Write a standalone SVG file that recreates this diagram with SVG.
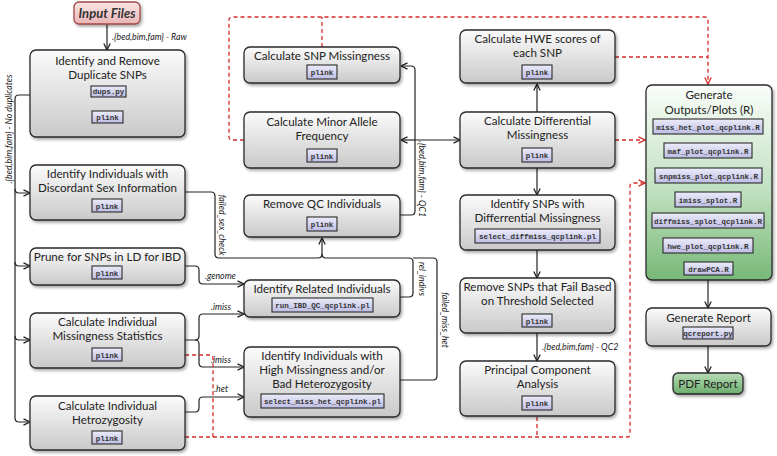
<svg xmlns="http://www.w3.org/2000/svg" width="777" height="456" viewBox="0 0 777 456">
<defs>
<linearGradient id="gBox" x1="0" y1="0" x2="0" y2="1"><stop offset="0" stop-color="#fbfbfb"/><stop offset="1" stop-color="#c9c9c9"/></linearGradient>
<linearGradient id="gCode" x1="0" y1="0" x2="0" y2="1"><stop offset="0" stop-color="#ececfa"/><stop offset="1" stop-color="#bdbde3"/></linearGradient>
<linearGradient id="gIn" x1="0" y1="0" x2="0" y2="1"><stop offset="0" stop-color="#fbe6e6"/><stop offset="1" stop-color="#e9b5b5"/></linearGradient>
<linearGradient id="gGen" x1="0" y1="0" x2="0" y2="1"><stop offset="0" stop-color="#fafdfa"/><stop offset="0.55" stop-color="#bfe0bf"/><stop offset="1" stop-color="#78b878"/></linearGradient>
<linearGradient id="gPdf" x1="0" y1="0" x2="0" y2="1"><stop offset="0" stop-color="#b8dcb8"/><stop offset="1" stop-color="#6cae6c"/></linearGradient>
<filter id="sh" x="-10%" y="-10%" width="125%" height="130%"><feDropShadow dx="1.5" dy="2" stdDeviation="1.5" flood-color="#000" flood-opacity="0.35"/></filter>
<marker id="ar" viewBox="0 0 8 8" refX="7.5" refY="4" markerWidth="8" markerHeight="8" markerUnits="userSpaceOnUse" orient="auto"><path d="M1,0.8 L7.5,4 L1,7.2" fill="none" stroke="#222" stroke-width="1.3"/></marker>
<marker id="arR" viewBox="0 0 8 8" refX="7.5" refY="4" markerWidth="8" markerHeight="8" markerUnits="userSpaceOnUse" orient="auto"><path d="M1,0.8 L7.5,4 L1,7.2" fill="none" stroke="#d32a2a" stroke-width="1.3"/></marker>
<style>
.box{fill:url(#gBox);stroke:#2a2a2a;stroke-width:1.3;filter:url(#sh)}
.code{fill:url(#gCode);stroke:#2a2a2a;stroke-width:1.1}
.t{font-family:Lato,"Liberation Sans",sans-serif;font-size:11.6px;fill:#222;text-anchor:middle}
.c{font-family:"Liberation Mono","DejaVu Sans Mono",monospace;font-size:7.5px;font-weight:bold;fill:#333;text-anchor:middle}
.l{font-family:Lato,"Liberation Sans",sans-serif;font-size:8.8px;font-style:italic;fill:#222}
.k{fill:none;stroke:#222;stroke-width:1.2}
.r{fill:none;stroke:#d32a2a;stroke-width:1.3;stroke-dasharray:4 3}
</style>
</defs>

<g id="connectors">
<path class="k" d="M107,24 V50" marker-end="url(#ar)"/>
<path class="k" d="M108,97 V111" marker-end="url(#ar)"/>
<path class="k" d="M30,95 H19 Q15,95 15,99 V418 Q15,422 19,422 H30" marker-end="url(#ar)"/>
<path class="k" d="M15,189 Q15,193 19,193 H30" marker-end="url(#ar)"/>
<path class="k" d="M15,262 Q15,266 19,266 H30" marker-end="url(#ar)"/>
<path class="k" d="M15,336 Q15,340 19,340 H30" marker-end="url(#ar)"/>
<path class="k" d="M185,192 H211 Q215,192 215,196 V254 Q215,258 219,258 H318 Q322,258 322,254 V238" marker-end="url(#ar)"/>
<path class="k" d="M400,297 H409 Q413,297 413,293 V262 Q413,258 409,258 H326 Q322,258 322,254"/>
<path class="k" d="M400,380 H433 Q437,380 437,376 V262 Q437,258 433,258 H413"/>
<path class="k" d="M185,266 H195 Q199,266 199,270 V280 Q199,284 203,284 H244" marker-end="url(#ar)"/>
<path class="k" d="M185,340 H195 Q199,340 199,336 V318 Q199,314 203,314 H244" marker-end="url(#ar)"/>
<path class="k" d="M195,340 Q199,340 199,344 V363 Q199,367 203,367 H244" marker-end="url(#ar)"/>
<path class="k" d="M185,412 H195 Q199,412 199,408 V401 Q199,397 203,397 H244" marker-end="url(#ar)"/>
<path class="k" d="M400,215 H411 Q415,215 415,211 V70 Q415,66 411,66 H401" marker-end="url(#ar)"/>
<path class="k" d="M415,140 H401" marker-end="url(#ar)"/>
<path class="k" d="M415,140 H460" marker-end="url(#ar)"/>
<path class="k" d="M537,112 V84" marker-end="url(#ar)"/>
<path class="k" d="M537,168 V195" marker-end="url(#ar)"/>
<path class="k" d="M537,250 V278" marker-end="url(#ar)"/>
<path class="k" d="M537,333 V361" marker-end="url(#ar)"/>
<path class="k" d="M708,280 V308" marker-end="url(#ar)"/>
<path class="k" d="M708,346 V373" marker-end="url(#ar)"/>
<path class="r" d="M244,140 H232 Q229,140 229,137 V20 Q229,17 232,17 H705 Q708,17 708,20 V84" marker-end="url(#arR)"/>
<path class="r" d="M322,47 V17"/>
<path class="r" d="M615,57 H708"/>
<path class="r" d="M615,140 H645" marker-end="url(#arR)"/>
<path class="r" d="M185,355 H210 Q213,355 213,358 V437"/>
<path class="r" d="M185,437 H627 Q630,437 630,434 V186 Q630,183 633,183 H645" marker-end="url(#arR)"/>
<path class="r" d="M537,417 V437"/>
<text class="l" x="112" y="40">.{bed,bim,fam} - Raw</text>
<text class="l" transform="translate(12,129) rotate(-90)" text-anchor="middle">.{bed,bim,fam} - No duplicates</text>
<text class="l" transform="translate(219,225) rotate(90)" text-anchor="middle">failed_sex_check</text>
<text class="l" x="205" y="279">.genome</text>
<text class="l" x="211" y="310">.imiss</text>
<text class="l" x="211" y="363">.imiss</text>
<text class="l" x="214" y="392">.het</text>
<text class="l" transform="translate(419,279) rotate(90)" text-anchor="middle">rel_indivs</text>
<text class="l" transform="translate(442,320) rotate(90)" text-anchor="middle">failed_miss_het</text>
<text class="l" transform="translate(419,179) rotate(90)" text-anchor="middle">.{bed,bim,fam} - QC1</text>
<text class="l" x="542" y="350">.{bed,bim,fam} - QC2</text>
</g>

<g id="input">
<rect x="74" y="2" width="66" height="22" rx="5" fill="url(#gIn)" stroke="#a04848" stroke-width="1.3" filter="url(#sh)"/>
<text x="107" y="17.5" font-family="Lato,'Liberation Sans',sans-serif" font-size="13" font-style="italic" font-weight="bold" fill="#333" text-anchor="middle">Input Files</text>
</g>

<g id="dups">
<rect class="box" x="30" y="50" width="155" height="87" rx="6"/>
<text class="t" x="107.5" y="65">Identify and Remove</text>
<text class="t" x="107.5" y="79">Duplicate SNPs</text>
<rect class="code" x="91" y="86" width="35" height="11"/><text class="c" x="108.5" y="94">dups.py</text>
<rect class="code" x="92" y="111" width="31" height="12"/><text class="c" x="107.5" y="120">plink</text>
</g>

<g id="sex">
<rect class="box" x="30" y="165" width="155" height="55" rx="6"/>
<text class="t" x="107.5" y="178">Identify Individuals with</text>
<text class="t" x="107.5" y="192">Discordant Sex Information</text>
<rect class="code" x="92" y="199" width="30" height="13"/><text class="c" x="107" y="208.5">plink</text>
</g>

<g id="prune">
<rect class="box" x="30" y="248" width="155" height="37" rx="6"/>
<text class="t" x="107.5" y="261">Prune for SNPs in LD for IBD</text>
<rect class="code" x="92" y="266" width="30" height="13"/><text class="c" x="107" y="275.5">plink</text>
</g>

<g id="imiss">
<rect class="box" x="30" y="313" width="155" height="55" rx="6"/>
<text class="t" x="107.5" y="326">Calculate Individual</text>
<text class="t" x="107.5" y="340">Missingness Statistics</text>
<rect class="code" x="92" y="348" width="30" height="13"/><text class="c" x="107" y="357.5">plink</text>
</g>

<g id="het">
<rect class="box" x="30" y="396" width="155" height="54" rx="6"/>
<text class="t" x="107.5" y="410">Calculate Individual</text>
<text class="t" x="107.5" y="424">Hetrozygosity</text>
<rect class="code" x="92" y="431" width="30" height="13"/><text class="c" x="107" y="440.5">plink</text>
</g>

<g id="snpmiss">
<rect class="box" x="244" y="47" width="156" height="36" rx="6"/>
<text class="t" x="322" y="60">Calculate SNP Missingness</text>
<rect class="code" x="307" y="65" width="30" height="14"/><text class="c" x="322" y="75">plink</text>
</g>

<g id="maf">
<rect class="box" x="244" y="112" width="156" height="56" rx="6"/>
<text class="t" x="322" y="126">Calculate Minor Allele</text>
<text class="t" x="322" y="140">Frequency</text>
<rect class="code" x="307" y="149" width="30" height="13"/><text class="c" x="322" y="158.5">plink</text>
</g>

<g id="removeqc">
<rect class="box" x="244" y="195" width="156" height="42" rx="6"/>
<text class="t" x="322" y="208">Remove QC Individuals</text>
<rect class="code" x="307" y="217" width="30" height="14"/><text class="c" x="322" y="227">plink</text>
</g>

<g id="related">
<rect class="box" x="244" y="280" width="156" height="37" rx="6"/>
<text class="t" x="322" y="293">Identify Related Individuals</text>
<rect class="code" x="272" y="298" width="101" height="14"/><text class="c" x="322.5" y="308">run_IBD_QC_qcplink.pl</text>
</g>

<g id="misshet">
<rect class="box" x="244" y="347" width="156" height="70" rx="6"/>
<text class="t" x="322" y="360">Identify Individuals with</text>
<text class="t" x="322" y="374">High Missingness and/or</text>
<text class="t" x="322" y="388">Bad Heterozygosity</text>
<rect class="code" x="261" y="394" width="123" height="14"/><text class="c" x="322.5" y="404">select_miss_het_qcplink.pl</text>
</g>

<g id="hwe">
<rect class="box" x="460" y="30" width="155" height="53" rx="6"/>
<text class="t" x="537.5" y="43">Calculate HWE scores of</text>
<text class="t" x="537.5" y="57">each SNP</text>
<rect class="code" x="522" y="65" width="30" height="14"/><text class="c" x="537" y="75">plink</text>
</g>

<g id="diffmiss">
<rect class="box" x="460" y="112" width="155" height="56" rx="6"/>
<text class="t" x="537.5" y="125">Calculate Differential</text>
<text class="t" x="537.5" y="139">Missingness</text>
<rect class="code" x="522" y="148" width="30" height="14"/><text class="c" x="537" y="158">plink</text>
</g>

<g id="selectdiff">
<rect class="box" x="460" y="195" width="155" height="55" rx="6"/>
<text class="t" x="537.5" y="208">Identify SNPs with</text>
<text class="t" x="537.5" y="222">Differrential Missingness</text>
<rect class="code" x="475" y="229" width="125" height="14"/><text class="c" x="537.5" y="239">select_diffmiss_qcplink.pl</text>
</g>

<g id="removesnps">
<rect class="box" x="460" y="278" width="155" height="55" rx="6"/>
<text class="t" x="537.5" y="291">Remove SNPs that Fail Based</text>
<text class="t" x="537.5" y="305">on Threshold Selected</text>
<rect class="code" x="522" y="314" width="30" height="13"/><text class="c" x="537" y="323.5">plink</text>
</g>

<g id="pca">
<rect class="box" x="460" y="361" width="155" height="55" rx="6"/>
<text class="t" x="537.5" y="374">Principal Component</text>
<text class="t" x="537.5" y="388">Analysis</text>
<rect class="code" x="522" y="396" width="30" height="14"/><text class="c" x="537" y="406">plink</text>
</g>

<g id="generate">
<rect x="646" y="85" width="126" height="195" rx="6" fill="url(#gGen)" stroke="#2a2a2a" stroke-width="1.3" filter="url(#sh)"/>
<text class="t" x="709" y="99" font-size="13">Generate</text>
<text class="t" x="709" y="114" font-size="13">Outputs/Plots (R)</text>
<rect class="code" x="653" y="119" width="110" height="15"/><text class="c" x="708" y="129.5">miss_het_plot_qcplink.R</text>
<rect class="code" x="664" y="143" width="88" height="15"/><text class="c" x="708" y="153.5">maf_plot_qcplink.R</text>
<rect class="code" x="655" y="168" width="107" height="15"/><text class="c" x="708.5" y="178.5">snpmiss_plot_qcplink.R</text>
<rect class="code" x="675" y="192" width="66" height="15"/><text class="c" x="708" y="202.5">imiss_splot.R</text>
<rect class="code" x="652" y="213" width="112" height="15"/><text class="c" x="708" y="223.5">diffmiss_splot_qcplink.R</text>
<rect class="code" x="663" y="238" width="90" height="15"/><text class="c" x="708" y="248.5">hwe_plot_qcplink.R</text>
<rect class="code" x="684" y="262" width="49" height="13"/><text class="c" x="708.5" y="271.5">drawPCA.R</text>
</g>

<g id="report">
<rect x="646" y="308" width="125" height="38" rx="6" fill="url(#gBox)" stroke="#2a2a2a" stroke-width="1.3" filter="url(#sh)"/>
<text class="t" x="708.5" y="322" font-size="13">Generate Report</text>
<rect class="code" x="683" y="327" width="50" height="12"/><text class="c" x="708" y="336">qcreport.py</text>
</g>

<g id="pdf">
<rect x="673" y="373" width="70" height="21" rx="5" fill="url(#gPdf)" stroke="#2a2a2a" stroke-width="1.3" filter="url(#sh)"/>
<text class="t" x="708" y="388" font-size="13">PDF Report</text>
</g>
</svg>
